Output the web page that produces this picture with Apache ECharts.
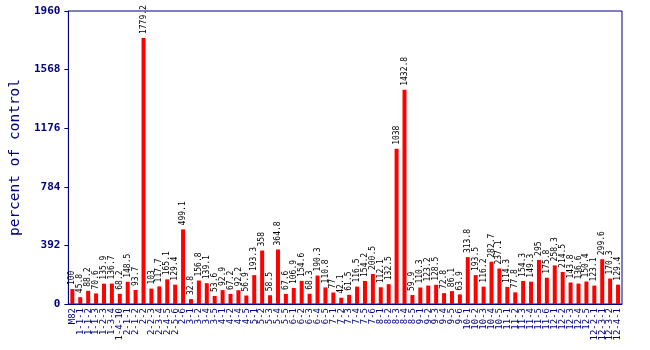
<!DOCTYPE html>
<html>
<head>
<meta charset="utf-8">
<script src="https://cdn.jsdelivr.net/npm/echarts@6/dist/echarts.min.js"></script>
<style>
  html, body { margin: 0; padding: 0; background: #fff; }
  #chart { width: 650px; height: 350px; }
</style>
</head>
<body>
<div id="chart"></div>
<script>
// Line names along the category axis
const categories = [
  "M82", "1-1-1", "1-1-2", "1-1-3", "1-2-3", "1-3-4", "1-4-10", "2-1-1", "2-1-2", "2-2",
  "2-2-3", "2-3-4", "2-4-5", "2-5-6", "2-6", "3-1", "3-2", "3-4", "3-5", "4-1",
  "4-2", "4-4", "4-5", "5-1", "5-2", "5-3", "5-4", "5-5", "6-1", "6-2",
  "6-3", "6-4", "6-5", "7-1", "7-2", "7-3", "7-4", "7-5", "7-6", "8-1",
  "8-2", "8-3", "8-4", "8-5", "9-1", "9-2", "9-3", "9-4", "9-5", "9-6",
  "10-1", "10-2", "10-3", "10-4", "10-5", "11-1", "11-2", "11-3", "11-4", "11-5",
  "11-6", "12-1", "12-2", "12-3", "12-4", "12-5", "12-2-1", "12-3-1", "12-3-2", "12-4-1"
];

// Percent of control for each line
const values = [
  100, 45.8, 88.2, 70.6, 135.9, 136.7, 68.2, 148.5, 93.7, 1779.2,
  103, 117.7, 165.1, 129.4, 499.1, 32.8, 156.8, 139.1, 53.6, 92.9,
  67.2, 92.2, 56.9, 193.3, 358, 58.5, 364.8, 67.6, 106.9, 154.6,
  68.3, 190.3, 110.8, 77, 42.1, 61.5, 116.5, 154.2, 200.5, 112.1,
  132.5, 1038, 1432.8, 59.9, 110.3, 123.2, 128.5, 72.8, 86.1, 63.9,
  313.8, 193.5, 116.2, 282.7, 237.1, 114.3, 77.8, 154.3, 149.3, 295,
  175.8, 258.3, 214.5, 143.8, 136.6, 150.4, 123.1, 299.6, 170.3, 129.4
];

// Value-axis tick marks
const yTicks = [0, 392, 784, 1176, 1568, 1960];

const navy = '#000080';
const mono = '"DejaVu Sans Mono", "Liberation Mono", monospace';

const chart = echarts.init(document.getElementById('chart'), null, { renderer: 'canvas' });
chart.setOption({
  animation: false,
  grid: {
    left: 57, right: 28, top: 11, bottom: 46,
    show: true, borderColor: navy, borderWidth: 1, backgroundColor: 'transparent'
  },
  xAxis: {
    type: 'category',
    data: categories,
    boundaryGap: true,
    axisLine: { show: true, lineStyle: { color: navy, width: 1 } },
    axisTick: { show: false },
    axisLabel: {
      interval: 0, rotate: 90, color: navy, fontFamily: mono, fontSize: 9, margin: 4
    }
  },
  yAxis: {
    type: 'value',
    min: yTicks[0],
    max: yTicks[yTicks.length - 1],
    interval: yTicks[1] - yTicks[0],
    name: 'percent of control',
    nameLocation: 'middle',
    nameGap: 44,
    nameTextStyle: { color: navy, fontFamily: mono, fontSize: 14.5 },
    axisLine: { show: true, lineStyle: { color: navy, width: 1 } },
    axisTick: { show: true, length: 4, lineStyle: { color: navy } },
    splitLine: { show: false },
    axisLabel: {
      color: navy, fontFamily: mono, fontSize: 11, fontWeight: 'bold', margin: 8,
      formatter: v => String(v)
    }
  },
  series: [{
    type: 'bar',
    data: values,
    barWidth: 4,
    itemStyle: { color: '#ff0000' },
    label: {
      show: true,
      position: 'top',
      rotate: 90,
      align: 'left',
      verticalAlign: 'middle',
      distance: 4,
      color: '#000',
      fontFamily: mono,
      fontSize: 8,
      formatter: p => String(values[p.dataIndex])
    }
  }]
});
</script>
</body>
</html>
